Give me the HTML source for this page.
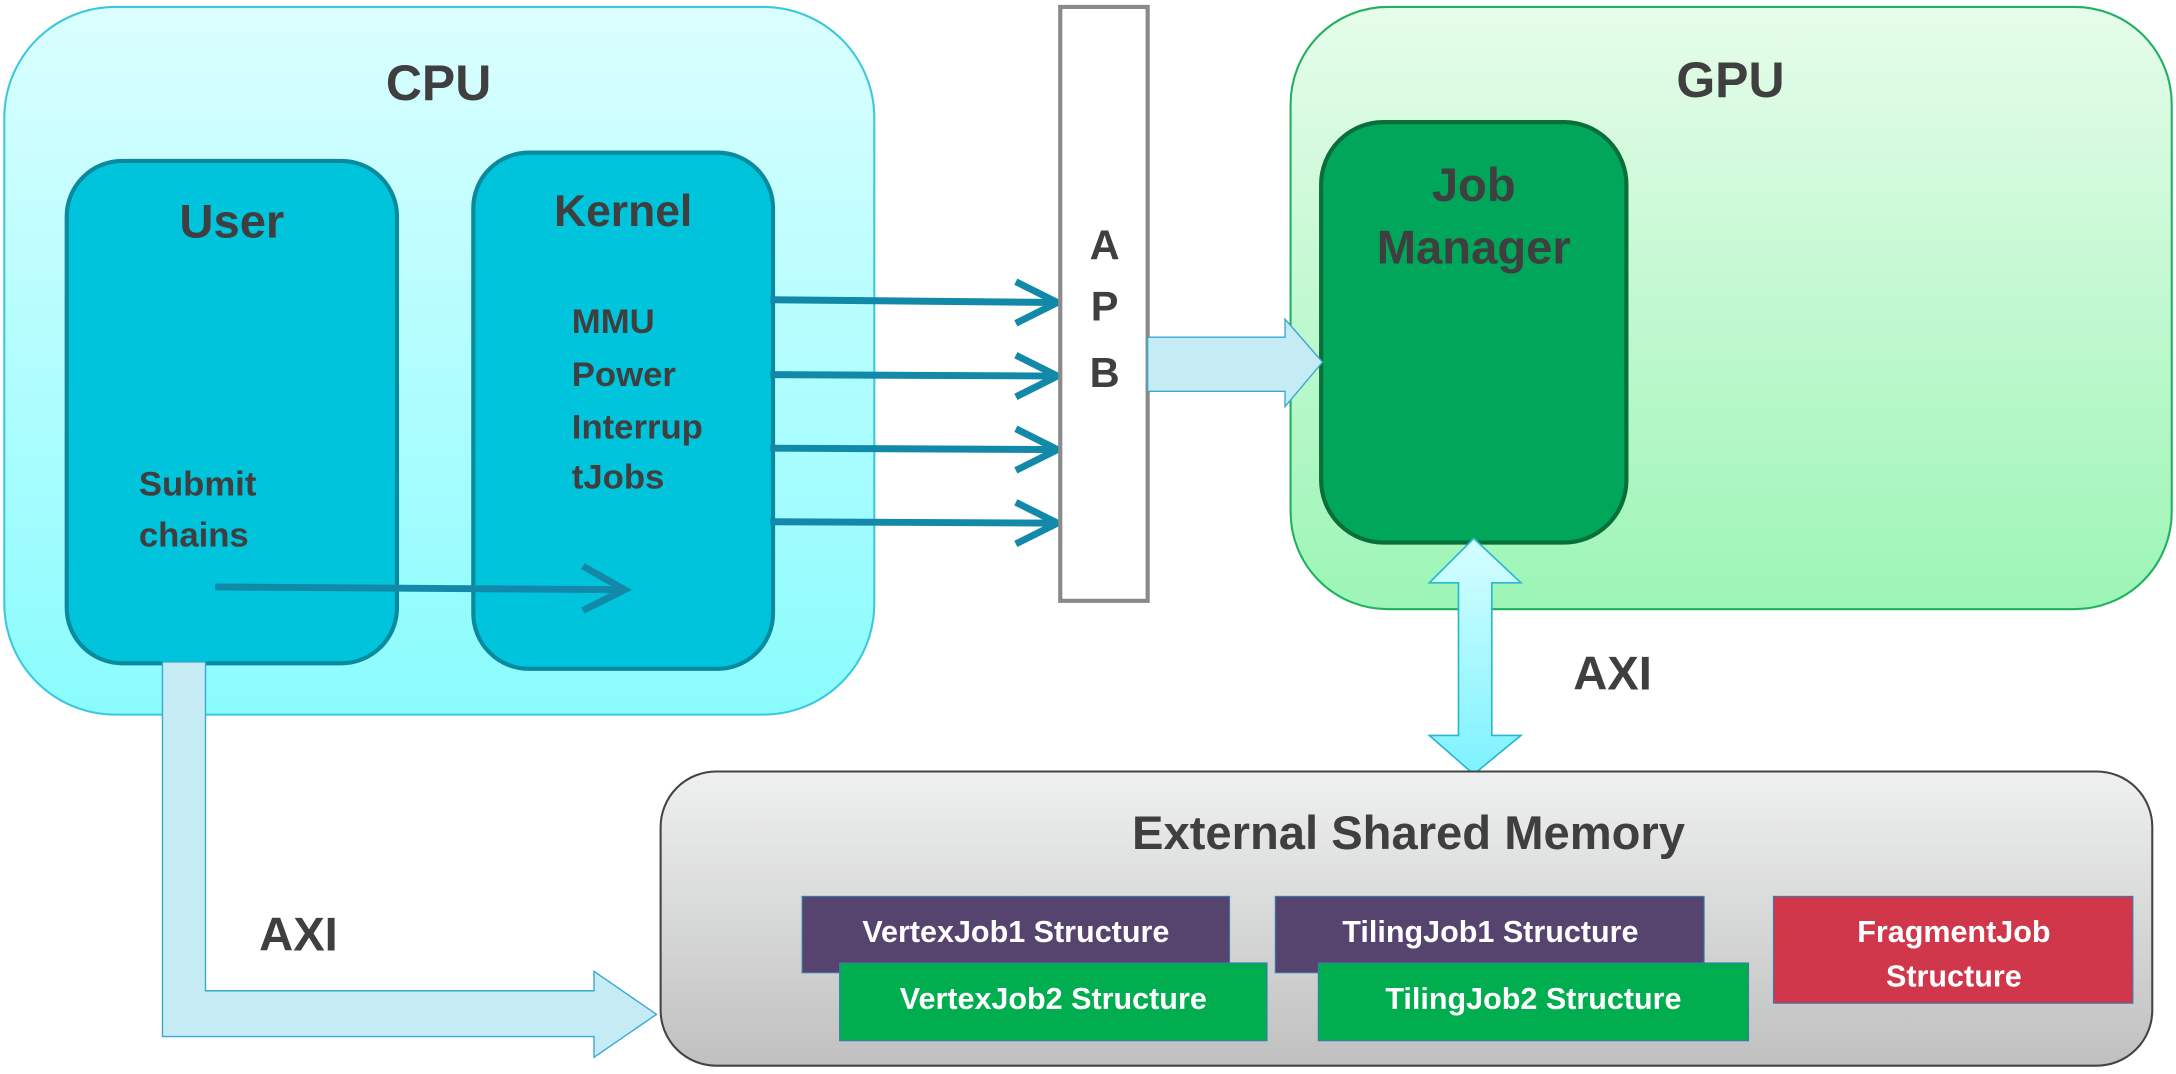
<!DOCTYPE html>
<html><head><meta charset="utf-8"><style>html,body{margin:0;padding:0;background:#fff}svg{display:block}</style></head>
<body>
<svg xmlns="http://www.w3.org/2000/svg" width="2176" height="1074" viewBox="0 0 1568 774" font-family="Liberation Sans, sans-serif" font-weight="bold">
<defs>
<linearGradient id="cpu" x1="0" y1="0" x2="0" y2="1"><stop offset="0" stop-color="#dbfeff"/><stop offset="1" stop-color="#8afcfd"/></linearGradient>
<linearGradient id="gpu" x1="0" y1="0" x2="0" y2="1"><stop offset="0" stop-color="#e6fcea"/><stop offset="1" stop-color="#9cf5b6"/></linearGradient>
<linearGradient id="mem" x1="0" y1="0" x2="0" y2="1"><stop offset="0" stop-color="#eff1f0"/><stop offset="1" stop-color="#bfc0bf"/></linearGradient>
<linearGradient id="axi" x1="0" y1="0" x2="0" y2="1"><stop offset="0" stop-color="#d6feff"/><stop offset="1" stop-color="#7ef2ff"/></linearGradient>
</defs>
<!-- CPU -->
<rect x="3" y="5" width="627" height="510" rx="80" fill="url(#cpu)" stroke="#3cc8dc" stroke-width="1.5"/>
<text x="316" y="72" font-size="36" fill="#3f3f3f" text-anchor="middle">CPU</text>
<rect x="48" y="116" width="238" height="362" rx="40" fill="#00c3dc" stroke="#0a8a9e" stroke-width="3"/>
<text x="167" y="171" font-size="34" fill="#3f3f3f" text-anchor="middle">User</text>
<rect x="341" y="110" width="216" height="372" rx="40" fill="#00c3dc" stroke="#0a8a9e" stroke-width="3"/>
<text x="449" y="163" font-size="32" fill="#3f3f3f" text-anchor="middle">Kernel</text>
<g font-size="25" fill="#3f3f3f">
<text x="412" y="240">MMU</text><text x="412" y="278">Power</text><text x="412" y="316">Interrup</text><text x="412" y="352">tJobs</text>
<text x="100" y="357">Submit</text><text x="100" y="394">chains</text>
</g>
<g stroke="#1289a8" stroke-width="5" fill="none">
<line x1="155" y1="423" x2="450" y2="425"/><polyline points="420,408 450,425 420,440"/>
<line x1="555" y1="216" x2="762" y2="218"/><polyline points="732,203 762,218 732,233"/>
<line x1="555" y1="270" x2="762" y2="271"/><polyline points="732,256 762,271 732,286"/>
<line x1="555" y1="323" x2="762" y2="324"/><polyline points="732,309 762,324 732,339"/>
<line x1="555" y1="376" x2="762" y2="377"/><polyline points="732,362 762,377 732,392"/>
</g>
<!-- APB -->
<rect x="764" y="5" width="63" height="428" fill="#fff" stroke="#8a8a8a" stroke-width="3"/>
<g font-size="30" fill="#3f3f3f" text-anchor="middle"><text x="796" y="187">A</text><text x="796" y="231">P</text><text x="796" y="279">B</text></g>
<!-- GPU -->
<rect x="930" y="5" width="635" height="434" rx="70" fill="url(#gpu)" stroke="#20b060" stroke-width="1.5"/>
<text x="1247" y="70" font-size="36" fill="#3f3f3f" text-anchor="middle">GPU</text>
<rect x="952" y="88" width="220" height="303" rx="45" fill="#00a65a" stroke="#0a6e3a" stroke-width="3"/>
<text x="1062" y="145" font-size="34" fill="#3f3f3f" text-anchor="middle">Job</text>
<text x="1062" y="190" font-size="34" fill="#3f3f3f" text-anchor="middle">Manager</text>
<!-- APB->GPU -->
<polygon points="827,243 926,243 926,230 953,261 926,293 926,282 827,282" fill="#c5ecf5" stroke="#3aa8d0" stroke-width="1"/>
<!-- AXI double -->
<polygon points="1062,388 1096,420 1075,420 1075,530 1096,530 1062,558 1030,530 1051,530 1051,420 1030,420" fill="url(#axi)" stroke="#2ab8d0" stroke-width="1.2"/>
<text x="1162" y="497" font-size="34" fill="#3f3f3f" text-anchor="middle">AXI</text>
<!-- Memory -->
<rect x="476" y="556" width="1075" height="212" rx="40" fill="url(#mem)" stroke="#444" stroke-width="1.5"/>
<polygon points="117,477 148,477 148,714 428,714 428,700 473,731 428,762 428,747 117,747" fill="#c5ecf5" stroke="#3aa8d0" stroke-width="1"/>
<text x="215" y="685" font-size="34" fill="#3f3f3f" text-anchor="middle">AXI</text>
<text x="1015" y="612" font-size="34" fill="#3f3f3f" text-anchor="middle">External Shared Memory</text>
<rect x="578" y="646" width="308" height="55" fill="#56436e" stroke="#3a7ab0" stroke-width="0.8"/>
<rect x="605" y="694" width="308" height="56" fill="#00ad4f" stroke="#3a7ab0" stroke-width="0.8"/>
<rect x="919" y="646" width="309" height="55" fill="#56436e" stroke="#3a7ab0" stroke-width="0.8"/>
<rect x="950" y="694" width="310" height="56" fill="#00ad4f" stroke="#3a7ab0" stroke-width="0.8"/>
<rect x="1278" y="646" width="259" height="77" fill="#d0374a" stroke="#3a7ab0" stroke-width="0.8"/>
<g font-size="22" fill="#fff" text-anchor="middle">
<text x="732" y="679">VertexJob1 Structure</text>
<text x="759" y="727">VertexJob2 Structure</text>
<text x="1074" y="679">TilingJob1 Structure</text>
<text x="1105" y="727">TilingJob2 Structure</text>
<text x="1408" y="679">FragmentJob</text>
<text x="1408" y="711">Structure</text>
</g>
</svg>
</body></html>
